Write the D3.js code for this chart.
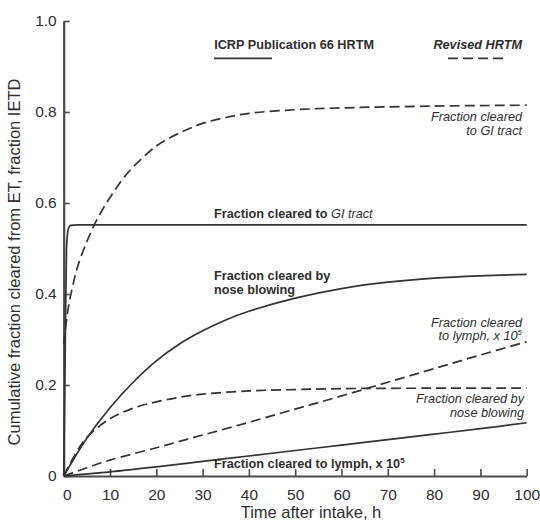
<!DOCTYPE html>
<html>
<head>
<meta charset="utf-8">
<script src="https://cdnjs.cloudflare.com/ajax/libs/d3/7.8.5/d3.min.js"></script>
<style>
  body { margin: 0; background: #fff; }
  svg { display: block; font-family: "Liberation Sans", Arial, sans-serif; }
</style>
</head>
<body>
<svg id="chart" width="540" height="527"></svg>
<script>
// [time after intake (h), cumulative fraction]
const icrpGI = [[0,0],[0.3,0.25],[0.6,0.5],[1,0.543],[1.5,0.551],[3,0.552],[100,0.552]];
const icrpNose = [[0,0],[5,0.083],[10,0.15],[15,0.206],[20,0.253],[25,0.29],[30,0.319],[35,0.343],[40,0.362],[50,0.391],[60,0.412],[70,0.426],[80,0.435],[90,0.44],[100,0.443]];
const icrpLymph = [[0,0],[10,0.009],[20,0.02],[30,0.032],[40,0.044],[50,0.056],[60,0.068],[70,0.08],[80,0.092],[90,0.104],[100,0.117]];
const revGI = [[0,0.29],[1,0.37],[2,0.42],[3,0.46],[5,0.515],[7,0.56],[10,0.612],[14,0.668],[20,0.725],[25,0.754],[30,0.775],[35,0.788],[40,0.797],[50,0.805],[60,0.809],[80,0.813],[100,0.815]];
const revNose = [[0,0],[2.5,0.048],[5,0.085],[10,0.126],[15,0.149],[20,0.163],[25,0.173],[30,0.18],[40,0.187],[50,0.19],[60,0.192],[80,0.193],[100,0.193]];
const revLymph = [[0,0],[5,0.018],[10,0.035],[20,0.062],[30,0.09],[40,0.118],[50,0.147],[60,0.176],[70,0.206],[80,0.236],[90,0.266],[100,0.295]];

const xTicks = [0,10,20,30,40,50,60,70,80,90,100];
const yTicks = [0,0.2,0.4,0.6,0.8,1.0];
const yTickLabels = ["0","0.2","0.4","0.6","0.8","1.0"];

const legendNames = ["ICRP Publication 66 HRTM", "Revised HRTM"];

const svg = d3.select('#chart');
const ink = '#2e2e2e';

let x = d3.scaleLinear().domain([0,100]).range([63.7,526.7]);
let y = d3.scaleLinear().domain([0,1]).range([476,21]);

// axes, ticks pointing inward
let xAxis = svg.append('g').attr('transform', `translate(0,${y(0)})`)
  .call(d3.axisBottom(x).tickValues(xTicks).tickSizeInner(-7).tickSizeOuter(0).tickPadding(13));
let yAxis = svg.append('g').attr('transform', `translate(${x(0)},0)`)
  .call(d3.axisLeft(y).tickValues(yTicks).tickFormat((d,i) => yTickLabels[i])
    .tickSizeInner(-6).tickSizeOuter(0).tickPadding(7));

[xAxis, yAxis].forEach(g => {
  g.attr('font-family', null).attr('font-size', null);
  g.select('.domain').attr('stroke', '#4a4a4a').attr('stroke-width', 2.2);
  g.selectAll('.tick line').attr('stroke', '#4a4a4a').attr('stroke-width', 1.6);
  g.selectAll('.tick text').attr('fill', ink).style('font-size', '15.5px');
});
xAxis.select('.tick text').attr('dx', 3);

// curves: the step-like ICRP GI curve keeps monotone interpolation, the rest a smooth spline
let stepLine = d3.line()
  .curve(d3.curveMonotoneX)
  .x(d => x(d[0]))
  .y(d => y(d[1]));
let smoothLine = d3.line()
  .curve(d3.curveCatmullRom.alpha(0.5))
  .x(d => x(d[0]))
  .y(d => y(d[1]));

let series = [
  {data: icrpGI, dash: null, gen: stepLine},
  {data: icrpNose, dash: null, gen: smoothLine},
  {data: icrpLymph, dash: null, gen: smoothLine},
  {data: revGI, dash: '10,5', gen: smoothLine},
  {data: revNose, dash: '10,5', gen: smoothLine},
  {data: revLymph, dash: '10,5', gen: smoothLine}
];

series.forEach(s => {
  svg.append('path').datum(s.data)
    .attr('fill', 'none')
    .attr('stroke', '#333')
    .attr('stroke-width', 1.7)
    .attr('stroke-dasharray', s.dash)
    .attr('d', s.gen);
});

// legend
let legend = svg.append('g').attr('fill', ink).style('font-size', '12.7px').style('font-weight', 'bold');
legend.append('text').attr('x', x(32.5)).attr('y', 48.5).text(legendNames[0]);
legend.append('text').attr('x', 522).attr('y', 48.5).attr('text-anchor', 'end')
  .style('font-style', 'italic').text(legendNames[1]);
svg.append('line').attr('x1', 214).attr('x2', 272).attr('y1', 58.3).attr('y2', 58.3)
  .attr('stroke', '#333').attr('stroke-width', 1.7);
svg.append('line').attr('x1', 448).attr('x2', 503).attr('y1', 58.3).attr('y2', 58.3)
  .attr('stroke', '#333').attr('stroke-width', 1.7).attr('stroke-dasharray', '10,5');

// curve annotations
let notes = svg.append('g').attr('fill', ink).style('font-size', '12.7px');

function multiLine(g, xPos, yPos, lines, anchor, style, weight) {
  let t = g.append('text').attr('x', xPos).attr('y', yPos)
    .attr('text-anchor', anchor).style('font-style', style).style('font-weight', weight);
  lines.forEach((parts, i) => {
    parts.forEach((p, j) => {
      let ts = t.append('tspan').text(p.t);
      if (j === 0) ts.attr('x', xPos).attr('dy', i === 0 ? 0 : 13.5);
      if (p.sup) ts.attr('dy', -5).style('font-size', '8px');
      if (p.italic) ts.style('font-style', 'italic').style('font-weight', 'normal');
    });
  });
  return t;
}

multiLine(notes, 522, 121, [[{t: 'Fraction cleared'}], [{t: 'to GI tract'}]], 'end', 'italic', 'normal');
multiLine(notes, 214, 218.3, [[{t: 'Fraction cleared to '}, {t: 'GI tract', italic: true}]], 'start', 'normal', 'bold');
multiLine(notes, 214, 280, [[{t: 'Fraction cleared by'}], [{t: 'nose blowing'}]], 'start', 'normal', 'bold');
multiLine(notes, 522, 326.7, [[{t: 'Fraction cleared'}], [{t: 'to lymph, x 10'}, {t: '5', sup: true}]], 'end', 'italic', 'normal');
multiLine(notes, 524, 403.3, [[{t: 'Fraction cleared by'}], [{t: 'nose blowing'}]], 'end', 'italic', 'normal');
multiLine(notes, 214, 468.3, [[{t: 'Fraction cleared to lymph, x 10'}, {t: '5', sup: true}]], 'start', 'normal', 'bold');

// axis titles
svg.append('text')
  .attr('x', 311).attr('y', 518)
  .attr('text-anchor', 'middle').attr('fill', ink)
  .style('font-size', '16.5px')
  .text('Time after intake, h');

svg.append('text')
  .attr('transform', 'translate(20,262) rotate(-90)')
  .attr('text-anchor', 'middle').attr('fill', ink)
  .style('font-size', '16.5px')
  .text('Cumulative fraction cleared from ET, fraction IETD');
</script>
</body>
</html>
